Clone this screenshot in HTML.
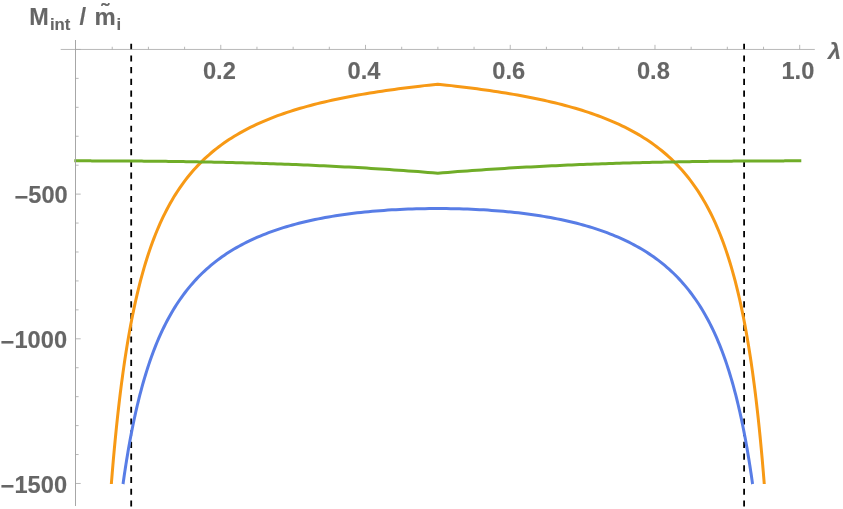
<!DOCTYPE html>
<html><head><meta charset="utf-8">
<style>
html,body{margin:0;padding:0;background:#fff;}
body{width:843px;height:509px;overflow:hidden;}
svg{display:block;will-change:transform;}
text{font-family:"Liberation Sans",sans-serif;font-weight:bold;fill:#666;stroke:#666;stroke-width:0.12px;stroke-linejoin:round;}
</style></head><body>
<svg width="843" height="509" viewBox="0 0 843 509">

<g stroke="#000" stroke-width="1.8" stroke-dasharray="6.15 5.56" fill="none">
<line x1="131.2" y1="43.7" x2="131.2" y2="506.4"/>
<line x1="744.1" y1="43.7" x2="744.1" y2="506.4"/>
</g>
<g fill="none" stroke-width="3.0" stroke-linejoin="round">
<path d="M123.03,484.00 L123.04,483.97 L123.05,483.85 L123.08,483.64 L123.13,483.32 L123.19,482.88 L123.27,482.34 L123.36,481.67 L123.47,480.88 L123.60,479.97 L123.75,478.94 L123.92,477.78 L124.10,476.49 L124.31,475.08 L124.53,473.55 L124.78,471.90 L125.05,470.13 L125.33,468.24 L125.64,466.24 L125.97,464.13 L126.32,461.91 L126.70,459.59 L127.09,457.17 L127.51,454.65 L127.95,452.05 L128.41,449.35 L128.89,446.57 L129.40,443.72 L129.93,440.79 L130.48,437.80 L131.06,434.74 L131.66,431.63 L132.28,428.46 L132.93,425.25 L133.61,421.99 L134.30,418.69 L135.02,415.37 L135.77,412.01 L136.54,408.63 L137.33,405.23 L138.15,401.82 L138.99,398.40 L139.86,394.97 L140.76,391.53 L141.68,388.10 L142.62,384.67 L143.59,381.25 L144.59,377.84 L145.61,374.45 L146.66,371.07 L147.73,367.71 L148.83,364.37 L149.96,361.06 L151.11,357.77 L152.29,354.51 L153.49,351.28 L154.72,348.09 L155.98,344.93 L157.27,341.80 L158.58,338.71 L159.92,335.66 L161.28,332.64 L162.68,329.67 L164.10,326.74 L165.54,323.84 L167.02,320.99 L168.52,318.18 L170.05,315.42 L171.61,312.70 L173.20,310.02 L174.81,307.38 L176.45,304.79 L178.12,302.24 L179.82,299.74 L181.54,297.28 L183.30,294.86 L185.08,292.49 L186.89,290.16 L188.73,287.87 L190.59,285.62 L192.49,283.42 L194.41,281.26 L196.37,279.14 L198.35,277.07 L200.36,275.03 L202.40,273.03 L204.47,271.08 L206.57,269.16 L208.69,267.29 L210.85,265.45 L213.03,263.65 L215.25,261.88 L217.49,260.16 L219.77,258.47 L222.07,256.82 L224.40,255.20 L226.76,253.62 L229.16,252.07 L231.58,250.56 L234.03,249.08 L236.51,247.63 L239.02,246.22 L241.56,244.84 L244.14,243.49 L246.74,242.17 L249.37,240.88 L252.03,239.62 L254.72,238.40 L257.45,237.20 L260.20,236.03 L262.98,234.89 L265.80,233.78 L268.64,232.69 L271.52,231.64 L274.43,230.61 L277.36,229.61 L280.33,228.63 L283.33,227.68 L286.36,226.76 L289.42,225.86 L292.51,224.98 L295.63,224.13 L298.79,223.31 L301.97,222.51 L305.19,221.74 L308.44,220.98 L311.71,220.26 L315.03,219.55 L318.37,218.87 L321.74,218.21 L325.14,217.57 L328.58,216.96 L332.05,216.37 L335.55,215.80 L339.08,215.26 L342.64,214.73 L346.24,214.23 L349.86,213.75 L353.52,213.29 L357.21,212.85 L360.93,212.43 L364.69,212.04 L368.48,211.66 L372.29,211.31 L376.15,210.98 L380.03,210.67 L383.94,210.38 L387.89,210.11 L391.87,209.86 L395.88,209.63 L399.93,209.42 L404.01,209.24 L408.12,209.07 L412.26,208.93 L416.43,208.81 L420.64,208.71 L424.88,208.63 L429.16,208.57 L433.46,208.54 L437.80,208.52 L442.14,208.54 L446.44,208.57 L450.72,208.63 L454.96,208.71 L459.17,208.81 L463.34,208.93 L467.48,209.07 L471.59,209.24 L475.67,209.42 L479.72,209.63 L483.73,209.86 L487.71,210.11 L491.66,210.38 L495.57,210.67 L499.45,210.98 L503.31,211.31 L507.12,211.66 L510.91,212.04 L514.67,212.43 L518.39,212.85 L522.08,213.29 L525.74,213.75 L529.36,214.23 L532.96,214.73 L536.52,215.26 L540.05,215.80 L543.55,216.37 L547.02,216.96 L550.46,217.57 L553.86,218.21 L557.23,218.87 L560.57,219.55 L563.89,220.26 L567.16,220.98 L570.41,221.74 L573.63,222.51 L576.81,223.31 L579.97,224.13 L583.09,224.98 L586.18,225.86 L589.24,226.76 L592.27,227.68 L595.27,228.63 L598.24,229.61 L601.17,230.61 L604.08,231.64 L606.96,232.69 L609.80,233.78 L612.62,234.89 L615.40,236.03 L618.15,237.20 L620.88,238.40 L623.57,239.62 L626.23,240.88 L628.86,242.17 L631.46,243.49 L634.04,244.84 L636.58,246.22 L639.09,247.63 L641.57,249.08 L644.02,250.56 L646.44,252.07 L648.84,253.62 L651.20,255.20 L653.53,256.82 L655.83,258.47 L658.11,260.16 L660.35,261.88 L662.57,263.65 L664.75,265.45 L666.91,267.29 L669.03,269.16 L671.13,271.08 L673.20,273.03 L675.24,275.03 L677.25,277.07 L679.23,279.14 L681.19,281.26 L683.11,283.42 L685.01,285.62 L686.87,287.87 L688.71,290.16 L690.52,292.49 L692.30,294.86 L694.06,297.28 L695.78,299.74 L697.48,302.24 L699.15,304.79 L700.79,307.38 L702.40,310.02 L703.99,312.70 L705.55,315.42 L707.08,318.18 L708.58,320.99 L710.06,323.84 L711.50,326.74 L712.92,329.67 L714.32,332.64 L715.68,335.66 L717.02,338.71 L718.33,341.80 L719.62,344.93 L720.88,348.09 L722.11,351.28 L723.31,354.51 L724.49,357.77 L725.64,361.06 L726.77,364.37 L727.87,367.71 L728.94,371.07 L729.99,374.45 L731.01,377.84 L732.01,381.25 L732.98,384.67 L733.92,388.10 L734.84,391.53 L735.74,394.97 L736.61,398.40 L737.45,401.82 L738.27,405.23 L739.06,408.63 L739.83,412.01 L740.58,415.37 L741.30,418.69 L741.99,421.99 L742.67,425.25 L743.32,428.46 L743.94,431.63 L744.54,434.74 L745.12,437.80 L745.67,440.79 L746.20,443.72 L746.71,446.57 L747.19,449.35 L747.65,452.05 L748.09,454.65 L748.51,457.17 L748.90,459.59 L749.28,461.91 L749.63,464.13 L749.96,466.24 L750.27,468.24 L750.55,470.13 L750.82,471.90 L751.07,473.55 L751.29,475.08 L751.50,476.49 L751.68,477.78 L751.85,478.94 L752.00,479.97 L752.13,480.88 L752.24,481.67 L752.33,482.34 L752.41,482.88 L752.47,483.32 L752.52,483.64 L752.55,483.85 L752.56,483.97 L752.57,484.00" stroke="#587de6"/>
<path d="M111.34,484.00 L111.34,483.94 L111.36,483.73 L111.39,483.33 L111.44,482.75 L111.50,481.96 L111.58,480.96 L111.68,479.74 L111.79,478.31 L111.93,476.65 L112.08,474.78 L112.25,472.68 L112.45,470.36 L112.66,467.83 L112.89,465.08 L113.15,462.13 L113.42,458.98 L113.72,455.64 L114.04,452.10 L114.38,448.39 L114.75,444.51 L115.14,440.47 L115.54,436.27 L115.98,431.93 L116.43,427.46 L116.91,422.87 L117.41,418.16 L117.94,413.36 L118.49,408.46 L119.06,403.47 L119.66,398.42 L120.28,393.30 L120.93,388.14 L121.60,382.93 L122.30,377.68 L123.02,372.41 L123.77,367.12 L124.54,361.83 L125.34,356.53 L126.17,351.24 L127.01,345.97 L127.89,340.71 L128.79,335.48 L129.72,330.28 L130.67,325.12 L131.65,319.99 L132.66,314.92 L133.69,309.89 L134.75,304.92 L135.84,300.01 L136.95,295.15 L138.09,290.36 L139.26,285.64 L140.45,280.98 L141.68,276.39 L142.93,271.87 L144.20,267.43 L145.51,263.05 L146.84,258.76 L148.20,254.53 L149.59,250.38 L151.01,246.31 L152.45,242.31 L153.93,238.39 L155.43,234.55 L156.96,230.78 L158.52,227.08 L160.10,223.46 L161.72,219.92 L163.36,216.44 L165.04,213.04 L166.74,209.71 L168.47,206.45 L170.23,203.26 L172.02,200.15 L173.84,197.09 L175.69,194.11 L177.56,191.19 L179.47,188.33 L181.41,185.54 L183.37,182.81 L185.37,180.15 L187.40,177.54 L189.45,174.99 L191.54,172.50 L193.65,170.06 L195.80,167.69 L197.97,165.36 L200.18,163.09 L202.42,160.87 L204.68,158.70 L206.98,156.58 L209.31,154.51 L211.66,152.49 L214.05,150.52 L216.47,148.59 L218.92,146.70 L221.40,144.86 L223.92,143.06 L226.46,141.30 L229.03,139.58 L231.64,137.91 L234.27,136.27 L236.94,134.66 L239.64,133.10 L242.37,131.57 L245.13,130.08 L247.92,128.62 L250.75,127.19 L253.60,125.80 L256.49,124.43 L259.41,123.10 L262.36,121.80 L265.34,120.53 L268.36,119.29 L271.40,118.07 L274.48,116.89 L277.59,115.72 L280.73,114.59 L283.91,113.48 L287.11,112.40 L290.35,111.34 L293.62,110.30 L296.93,109.29 L300.26,108.30 L303.63,107.33 L307.03,106.38 L310.46,105.45 L313.93,104.55 L317.43,103.66 L320.96,102.79 L324.52,101.94 L328.12,101.11 L331.75,100.30 L335.41,99.50 L339.11,98.73 L342.83,97.96 L346.60,97.22 L350.39,96.49 L354.22,95.77 L358.08,95.08 L361.97,94.39 L365.90,93.72 L369.86,93.06 L373.85,92.42 L377.88,91.79 L381.94,91.17 L386.04,90.57 L390.16,89.97 L394.33,89.39 L398.52,88.82 L402.75,88.27 L407.01,87.72 L411.31,87.18 L415.64,86.66 L420.00,86.14 L424.40,85.63 L428.83,85.14 L433.30,84.65 L437.80,84.17 L442.30,84.65 L446.77,85.14 L451.20,85.63 L455.60,86.14 L459.96,86.66 L464.29,87.18 L468.59,87.72 L472.85,88.27 L477.08,88.82 L481.27,89.39 L485.44,89.97 L489.56,90.57 L493.66,91.17 L497.72,91.79 L501.75,92.42 L505.74,93.06 L509.70,93.72 L513.63,94.39 L517.52,95.08 L521.38,95.77 L525.21,96.49 L529.00,97.22 L532.77,97.96 L536.49,98.73 L540.19,99.50 L543.85,100.30 L547.48,101.11 L551.08,101.94 L554.64,102.79 L558.17,103.66 L561.67,104.55 L565.14,105.45 L568.57,106.38 L571.97,107.33 L575.34,108.30 L578.67,109.29 L581.98,110.30 L585.25,111.34 L588.49,112.40 L591.69,113.48 L594.87,114.59 L598.01,115.72 L601.12,116.89 L604.20,118.07 L607.24,119.29 L610.26,120.53 L613.24,121.80 L616.19,123.10 L619.11,124.43 L622.00,125.80 L624.85,127.19 L627.68,128.62 L630.47,130.08 L633.23,131.57 L635.96,133.10 L638.66,134.66 L641.33,136.27 L643.96,137.91 L646.57,139.58 L649.14,141.30 L651.68,143.06 L654.20,144.86 L656.68,146.70 L659.13,148.59 L661.55,150.52 L663.94,152.49 L666.29,154.51 L668.62,156.58 L670.92,158.70 L673.18,160.87 L675.42,163.09 L677.63,165.36 L679.80,167.69 L681.95,170.06 L684.06,172.50 L686.15,174.99 L688.20,177.54 L690.23,180.15 L692.23,182.81 L694.19,185.54 L696.13,188.33 L698.04,191.19 L699.91,194.11 L701.76,197.09 L703.58,200.15 L705.37,203.26 L707.13,206.45 L708.86,209.71 L710.56,213.04 L712.24,216.44 L713.88,219.92 L715.50,223.46 L717.08,227.08 L718.64,230.78 L720.17,234.55 L721.67,238.39 L723.15,242.31 L724.59,246.31 L726.01,250.38 L727.40,254.53 L728.76,258.76 L730.09,263.05 L731.40,267.43 L732.67,271.87 L733.92,276.39 L735.15,280.98 L736.34,285.64 L737.51,290.36 L738.65,295.15 L739.76,300.01 L740.85,304.92 L741.91,309.89 L742.94,314.92 L743.95,319.99 L744.93,325.12 L745.88,330.28 L746.81,335.48 L747.71,340.71 L748.59,345.97 L749.43,351.24 L750.26,356.53 L751.06,361.83 L751.83,367.12 L752.58,372.41 L753.30,377.68 L754.00,382.93 L754.67,388.14 L755.32,393.30 L755.94,398.42 L756.54,403.47 L757.11,408.46 L757.66,413.36 L758.19,418.16 L758.69,422.87 L759.17,427.46 L759.62,431.93 L760.06,436.27 L760.46,440.47 L760.85,444.51 L761.22,448.39 L761.56,452.10 L761.88,455.64 L762.18,458.98 L762.45,462.13 L762.71,465.08 L762.94,467.83 L763.15,470.36 L763.35,472.68 L763.52,474.78 L763.67,476.65 L763.81,478.31 L763.92,479.74 L764.02,480.96 L764.10,481.96 L764.16,482.75 L764.21,483.33 L764.24,483.73 L764.26,483.94 L764.26,484.00" stroke="#f79915"/>
<path d="M74.30,160.86 L74.31,160.86 L74.32,160.86 L74.36,160.86 L74.41,160.86 L74.48,160.86 L74.57,160.86 L74.68,160.86 L74.81,160.86 L74.96,160.86 L75.13,160.86 L75.32,160.86 L75.53,160.86 L75.77,160.86 L76.03,160.86 L76.32,160.86 L76.63,160.86 L76.96,160.86 L77.31,160.86 L77.69,160.86 L78.10,160.86 L78.53,160.86 L78.99,160.86 L79.47,160.86 L79.97,160.86 L80.51,160.86 L81.07,160.86 L81.65,160.86 L82.26,160.86 L82.90,160.86 L83.57,160.86 L84.26,160.87 L84.98,160.87 L85.73,160.87 L86.51,160.87 L87.31,160.87 L88.15,160.87 L89.01,160.87 L89.89,160.87 L90.81,160.87 L91.76,160.88 L92.73,160.88 L93.73,160.88 L94.77,160.88 L95.83,160.88 L96.92,160.89 L98.04,160.89 L99.19,160.89 L100.37,160.89 L101.58,160.90 L102.82,160.90 L104.09,160.91 L105.39,160.91 L106.72,160.91 L108.08,160.92 L109.47,160.92 L110.90,160.93 L112.35,160.94 L113.83,160.94 L115.35,160.95 L116.90,160.96 L118.47,160.97 L120.08,160.97 L121.72,160.98 L123.39,160.99 L125.10,161.00 L126.83,161.01 L128.60,161.02 L130.40,161.04 L132.23,161.05 L134.09,161.06 L135.99,161.07 L137.92,161.09 L139.88,161.11 L141.87,161.12 L143.89,161.14 L145.95,161.16 L148.04,161.18 L150.16,161.20 L152.32,161.22 L154.51,161.24 L156.73,161.26 L158.99,161.29 L161.28,161.31 L163.60,161.34 L165.95,161.37 L168.34,161.40 L170.77,161.43 L173.22,161.46 L175.71,161.49 L178.24,161.53 L180.79,161.57 L183.38,161.61 L186.01,161.65 L188.67,161.69 L191.36,161.73 L194.09,161.78 L196.85,161.83 L199.65,161.88 L202.48,161.93 L205.35,161.98 L208.25,162.04 L211.18,162.10 L214.15,162.16 L217.16,162.23 L220.20,162.29 L223.27,162.36 L226.38,162.43 L229.53,162.51 L232.71,162.59 L235.92,162.67 L239.17,162.75 L242.46,162.84 L245.78,162.93 L249.13,163.03 L252.52,163.12 L255.95,163.22 L259.41,163.33 L262.91,163.44 L266.45,163.55 L270.02,163.67 L273.62,163.79 L277.27,163.92 L280.94,164.05 L284.66,164.18 L288.41,164.33 L292.19,164.47 L296.02,164.62 L299.88,164.78 L303.77,164.94 L307.70,165.10 L311.67,165.28 L315.68,165.46 L319.72,165.64 L323.79,165.83 L327.91,166.03 L332.06,166.23 L336.25,166.44 L340.47,166.66 L344.74,166.88 L349.03,167.11 L353.37,167.35 L357.74,167.60 L362.15,167.86 L366.60,168.12 L371.08,168.39 L375.61,168.67 L380.16,168.96 L384.76,169.26 L389.39,169.57 L394.07,169.88 L398.77,170.21 L403.52,170.55 L408.30,170.89 L413.13,171.25 L417.98,171.62 L422.88,172.00 L427.82,172.39 L432.79,172.79 L437.80,173.21 L442.81,172.79 L447.78,172.39 L452.72,172.00 L457.62,171.62 L462.47,171.25 L467.30,170.89 L472.08,170.55 L476.83,170.21 L481.53,169.88 L486.21,169.57 L490.84,169.26 L495.44,168.96 L499.99,168.67 L504.52,168.39 L509.00,168.12 L513.45,167.86 L517.86,167.60 L522.23,167.35 L526.57,167.11 L530.86,166.88 L535.13,166.66 L539.35,166.44 L543.54,166.23 L547.69,166.03 L551.81,165.83 L555.88,165.64 L559.92,165.46 L563.93,165.28 L567.90,165.10 L571.83,164.94 L575.72,164.78 L579.58,164.62 L583.41,164.47 L587.19,164.33 L590.94,164.18 L594.66,164.05 L598.33,163.92 L601.98,163.79 L605.58,163.67 L609.15,163.55 L612.69,163.44 L616.19,163.33 L619.65,163.22 L623.08,163.12 L626.47,163.03 L629.82,162.93 L633.14,162.84 L636.43,162.75 L639.68,162.67 L642.89,162.59 L646.07,162.51 L649.22,162.43 L652.33,162.36 L655.40,162.29 L658.44,162.23 L661.45,162.16 L664.42,162.10 L667.35,162.04 L670.25,161.98 L673.12,161.93 L675.95,161.88 L678.75,161.83 L681.51,161.78 L684.24,161.73 L686.93,161.69 L689.59,161.65 L692.22,161.61 L694.81,161.57 L697.36,161.53 L699.89,161.49 L702.38,161.46 L704.83,161.43 L707.26,161.40 L709.65,161.37 L712.00,161.34 L714.32,161.31 L716.61,161.29 L718.87,161.26 L721.09,161.24 L723.28,161.22 L725.44,161.20 L727.56,161.18 L729.65,161.16 L731.71,161.14 L733.73,161.12 L735.72,161.11 L737.68,161.09 L739.61,161.07 L741.51,161.06 L743.37,161.05 L745.20,161.04 L747.00,161.02 L748.77,161.01 L750.50,161.00 L752.21,160.99 L753.88,160.98 L755.52,160.97 L757.13,160.97 L758.70,160.96 L760.25,160.95 L761.77,160.94 L763.25,160.94 L764.70,160.93 L766.13,160.92 L767.52,160.92 L768.88,160.91 L770.21,160.91 L771.51,160.91 L772.78,160.90 L774.02,160.90 L775.23,160.89 L776.41,160.89 L777.56,160.89 L778.68,160.89 L779.77,160.88 L780.83,160.88 L781.87,160.88 L782.87,160.88 L783.84,160.88 L784.79,160.87 L785.71,160.87 L786.59,160.87 L787.45,160.87 L788.29,160.87 L789.09,160.87 L789.87,160.87 L790.62,160.87 L791.34,160.87 L792.03,160.86 L792.70,160.86 L793.34,160.86 L793.95,160.86 L794.53,160.86 L795.09,160.86 L795.63,160.86 L796.13,160.86 L796.61,160.86 L797.07,160.86 L797.50,160.86 L797.91,160.86 L798.29,160.86 L798.64,160.86 L798.97,160.86 L799.28,160.86 L799.57,160.86 L799.83,160.86 L800.07,160.86 L800.28,160.86 L800.47,160.86 L800.64,160.86 L800.79,160.86 L800.92,160.86 L801.03,160.86 L801.12,160.86 L801.19,160.86 L801.24,160.86 L801.28,160.86 L801.29,160.86 L801.30,160.86" stroke="#70ad28"/>
</g>
<g stroke="#ababab" stroke-width="0.85" fill="none">
<line x1="60.7" y1="49.45" x2="814.8" y2="49.45"/>
<line x1="112.23" y1="49.45" x2="112.23" y2="46.75"/>
<line x1="148.41" y1="49.45" x2="148.41" y2="46.75"/>
<line x1="184.60" y1="49.45" x2="184.60" y2="46.75"/>
<line x1="220.78" y1="49.45" x2="220.78" y2="44.85"/>
<line x1="256.96" y1="49.45" x2="256.96" y2="46.75"/>
<line x1="293.15" y1="49.45" x2="293.15" y2="46.75"/>
<line x1="329.33" y1="49.45" x2="329.33" y2="46.75"/>
<line x1="365.51" y1="49.45" x2="365.51" y2="44.85"/>
<line x1="401.69" y1="49.45" x2="401.69" y2="46.75"/>
<line x1="437.88" y1="49.45" x2="437.88" y2="46.75"/>
<line x1="474.06" y1="49.45" x2="474.06" y2="46.75"/>
<line x1="510.24" y1="49.45" x2="510.24" y2="44.85"/>
<line x1="546.42" y1="49.45" x2="546.42" y2="46.75"/>
<line x1="582.61" y1="49.45" x2="582.61" y2="46.75"/>
<line x1="618.79" y1="49.45" x2="618.79" y2="46.75"/>
<line x1="654.97" y1="49.45" x2="654.97" y2="44.85"/>
<line x1="691.15" y1="49.45" x2="691.15" y2="46.75"/>
<line x1="727.33" y1="49.45" x2="727.33" y2="46.75"/>
<line x1="763.52" y1="49.45" x2="763.52" y2="46.75"/>
<line x1="799.70" y1="49.45" x2="799.70" y2="44.85"/>
<line x1="75.50" y1="49.45" x2="80.70" y2="49.45"/>
<line x1="75.50" y1="78.39" x2="78.60" y2="78.39"/>
<line x1="75.50" y1="107.32" x2="78.60" y2="107.32"/>
<line x1="75.50" y1="136.25" x2="78.60" y2="136.25"/>
<line x1="75.50" y1="165.19" x2="78.60" y2="165.19"/>
<line x1="75.50" y1="194.12" x2="80.70" y2="194.12"/>
<line x1="75.50" y1="223.06" x2="78.60" y2="223.06"/>
<line x1="75.50" y1="252.00" x2="78.60" y2="252.00"/>
<line x1="75.50" y1="280.93" x2="78.60" y2="280.93"/>
<line x1="75.50" y1="309.87" x2="78.60" y2="309.87"/>
<line x1="75.50" y1="338.80" x2="80.70" y2="338.80"/>
<line x1="75.50" y1="367.73" x2="78.60" y2="367.73"/>
<line x1="75.50" y1="396.67" x2="78.60" y2="396.67"/>
<line x1="75.50" y1="425.60" x2="78.60" y2="425.60"/>
<line x1="75.50" y1="454.54" x2="78.60" y2="454.54"/>
<line x1="75.50" y1="483.47" x2="80.70" y2="483.47"/>
<line x1="75.5" y1="40" x2="75.5" y2="506" stroke="#a2a2a2" stroke-width="0.95"/>
</g>
<text transform="translate(219.4,78.5) scale(1.02,1.0)" font-size="23.2px" text-anchor="middle">0.2</text>
<text transform="translate(364.0,78.5) scale(1.02,1.0)" font-size="23.2px" text-anchor="middle">0.4</text>
<text transform="translate(508.8,78.5) scale(1.02,1.0)" font-size="23.2px" text-anchor="middle">0.6</text>
<text transform="translate(653.4,78.5) scale(1.02,1.0)" font-size="23.2px" text-anchor="middle">0.8</text>
<text transform="translate(797.9,78.5) scale(1.02,1.0)" font-size="23.2px" text-anchor="middle">1.0</text>
<text transform="translate(67.7,202.8) scale(1.02,1.0)" font-size="23.2px" text-anchor="end">500</text><text transform="translate(28.22,204.60000000000002) scale(1.02,1.0)" font-size="23.2px" text-anchor="end">−</text>
<text transform="translate(67.05,348.1) scale(1.02,1.0)" font-size="23.2px" text-anchor="end">1000</text><text transform="translate(14.41,349.90000000000003) scale(1.02,1.0)" font-size="23.2px" text-anchor="end">−</text>
<text transform="translate(67.05,492.5) scale(1.02,1.0)" font-size="23.2px" text-anchor="end">1500</text><text transform="translate(14.41,494.3) scale(1.02,1.0)" font-size="23.2px" text-anchor="end">−</text>
<text transform="translate(29.15,24.5) scale(1.0,0.985)" font-size="23.4px" text-anchor="start">M</text>
<text transform="translate(49.9,29.7) scale(1.02,1.0)" font-size="16.4px" text-anchor="start">int</text>
<text transform="translate(79.55,24.6) scale(1.02,1.0)" font-size="23.4px" text-anchor="start">/</text>
<text transform="translate(94.45,24.5) scale(1.02,0.99)" font-size="23.4px" text-anchor="start">m</text>
<text transform="translate(104.9,19.3) scale(1.02,1.0)" font-size="22px" text-anchor="middle" stroke="#666" stroke-width="0.7" stroke-linejoin="round">˜</text>
<text transform="translate(116.5,29.7) scale(1.02,1.0)" font-size="16.4px" text-anchor="start">i</text>
<text transform="translate(828.0,58.6) scale(1.02,1.0)" font-size="23.0px" text-anchor="start" font-style="italic">λ</text>
</svg>
</body></html>
